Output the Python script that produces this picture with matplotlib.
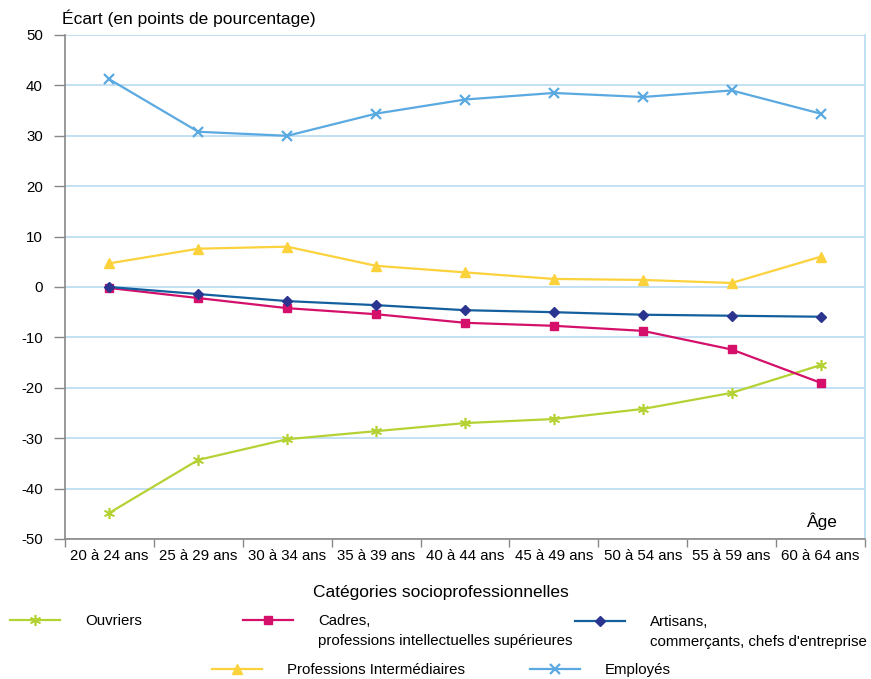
import matplotlib
matplotlib.use("Agg")
import matplotlib.pyplot as plt
import numpy as np

plt.rcParams['font.family'] = ['Liberation Sans', 'DejaVu Sans']
plt.rcParams['axes.unicode_minus'] = False

ages = ["20 à 24 ans", "25 à 29 ans", "30 à 34 ans", "35 à 39 ans", "40 à 44 ans",
        "45 à 49 ans", "50 à 54 ans", "55 à 59 ans", "60 à 64 ans"]

ouvriers = [-44.8, -34.3, -30.2, -28.6, -27.0, -26.2, -24.2, -21.0, -15.5]
cadres = [-0.2, -2.2, -4.2, -5.4, -7.1, -7.7, -8.7, -12.4, -19.0]
artisans = [0.0, -1.4, -2.8, -3.6, -4.6, -5.0, -5.5, -5.7, -5.9]
prof_inter = [4.7, 7.6, 8.0, 4.2, 2.9, 1.6, 1.4, 0.8, 6.0]
employes = [41.2, 30.8, 30.0, 34.4, 37.2, 38.5, 37.7, 39.0, 34.4]

fig = plt.figure(figsize=(8.71, 6.79), dpi=100)
ax = fig.add_axes([65 / 871, 140 / 679, 800 / 871, 504 / 679])

x = np.arange(len(ages))
lw = 1.6
l_ouv, = ax.plot(x, ouvriers, color='#b5d234', lw=lw, marker=(6, 2, 0), ms=8, mew=1.2,
                 label='Ouvriers')
l_cad, = ax.plot(x, cadres, color='#d4106b', lw=lw, marker='s', ms=6,
                 label='Cadres,')
l_art, = ax.plot(x, artisans, color='#14609e', lw=lw, marker='D', ms=5,
                 mfc='#2b3590', mec='#2b3590', label='Artisans,')
l_pro, = ax.plot(x, prof_inter, color='#fcd23c', lw=lw, marker='^', ms=7,
                 label='Professions Intermédiaires')
l_emp, = ax.plot(x, employes, color='#5aa9e0', lw=lw, marker='x', ms=7, mew=1.6,
                 label='Employés')

ax.set_xlim(-0.5, len(ages) - 0.5)
ax.set_ylim(-50, 50)
ax.set_yticks(np.arange(-50, 51, 10))
ax.yaxis.grid(True, color='#b9dcf2', lw=1.2)
ax.set_axisbelow(True)

ax.set_xticks(x)
ax.set_xticklabels(ages, fontsize=10.8)
ax.set_xticks(np.arange(-0.5, len(ages), 1), minor=True)
ax.tick_params(axis='x', which='major', length=0, pad=7)
ax.tick_params(axis='x', which='minor', length=6, color='#888888', width=1)
ax.tick_params(axis='y', length=8, color='#888888', width=1, labelsize=10.8, pad=8)

for s in ['left', 'bottom']:
    ax.spines[s].set_color('#888888')
    ax.spines[s].set_linewidth(1.2)
ax.spines['right'].set_color('#b9dcf2')
ax.spines['right'].set_linewidth(1.2)
ax.spines['top'].set_visible(False)

ax.text(0.966, 0.018, 'Âge', transform=ax.transAxes, ha='right', va='bottom', fontsize=12.5)
fig.text(62 / 871, 1 - 18 / 679, 'Écart (en points de pourcentage)', ha='left', va='center',
         fontsize=12.5)

fig.text(441 / 871, 1 - 592 / 679, 'Catégories socioprofessionnelles', ha='center',
         va='center', fontsize=12.5)

# legend entries: (line, handle left px, centre y px, second line text)
entries = [
    (l_ouv, 10, 621, None),
    (l_cad, 243, 621, 'professions intellectuelles supérieures'),
    (l_art, 575, 622, "commerçants, chefs d'entreprise"),
    (l_pro, 212, 670, None),
    (l_emp, 530, 670, None),
]
for line, px, py, extra in entries:
    leg = fig.legend(handles=[line], loc='center left',
                     bbox_to_anchor=(px / 871, 1 - py / 679),
                     frameon=False, fontsize=10.8, handlelength=3.3, handletextpad=1.7,
                     borderaxespad=0, borderpad=0)
    if extra:
        fig.canvas.draw()
        t = leg.get_texts()[0]
        bb = t.get_window_extent()
        fig.text(bb.x0 / 871, 1 - (py + 20) / 679, extra, ha='left', va='center',
                 fontsize=10.8)

fig.savefig('out.png', dpi=100)
